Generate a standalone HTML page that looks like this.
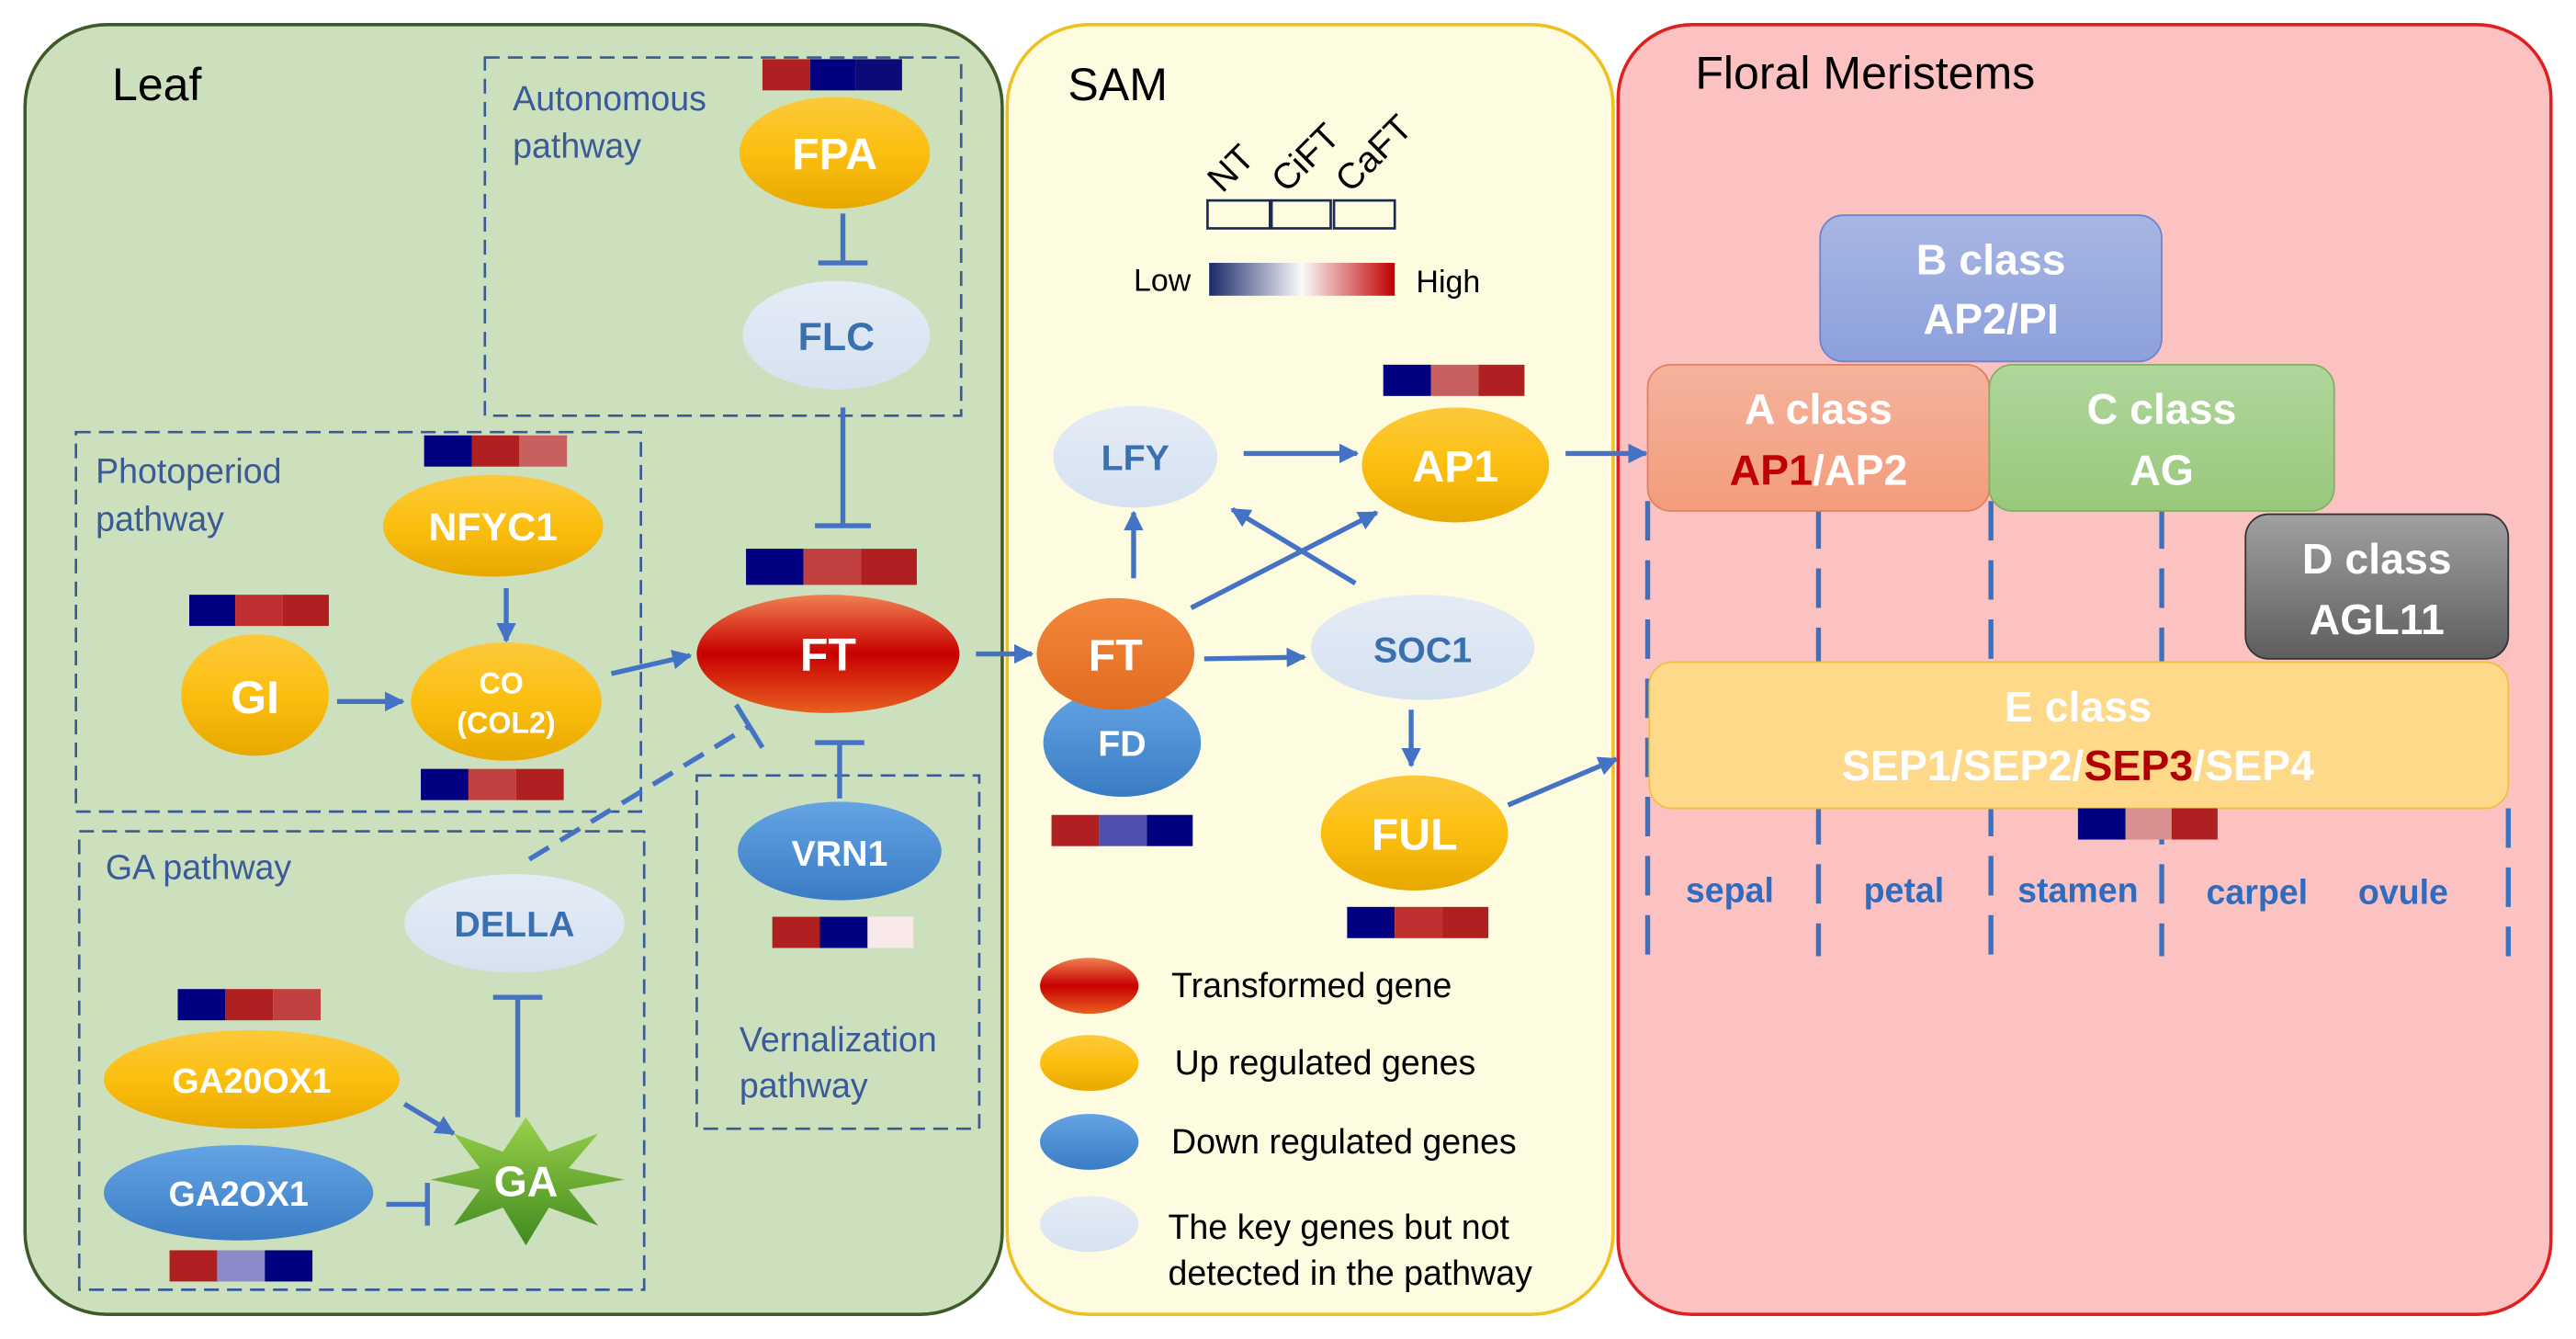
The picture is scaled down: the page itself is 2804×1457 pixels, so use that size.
<!DOCTYPE html>
<html><head><meta charset="utf-8"><style>html,body{margin:0;padding:0;background:#fff}svg{display:block}</style></head>
<body>
<svg width="2804" height="1457" viewBox="0 0 1568 815" xmlns="http://www.w3.org/2000/svg" font-family="Liberation Sans, sans-serif">
<defs>
<linearGradient id="yel" x1="0" y1="0" x2="0" y2="1"><stop offset="0" stop-color="#fdc93a"/><stop offset="0.5" stop-color="#fbbf10"/><stop offset="1" stop-color="#e8a800"/></linearGradient>
<linearGradient id="red" x1="0" y1="0" x2="0" y2="1"><stop offset="0" stop-color="#f08050"/><stop offset="0.5" stop-color="#c80000"/><stop offset="1" stop-color="#e86020"/></linearGradient>
<linearGradient id="blu" x1="0" y1="0" x2="0" y2="1"><stop offset="0" stop-color="#64a4e4"/><stop offset="1" stop-color="#3a7cc4"/></linearGradient>
<linearGradient id="org" x1="0" y1="0" x2="0" y2="1"><stop offset="0" stop-color="#f4873c"/><stop offset="1" stop-color="#e06c20"/></linearGradient>
<linearGradient id="lb" x1="0" y1="0" x2="0" y2="1"><stop offset="0" stop-color="#e4ecf6"/><stop offset="1" stop-color="#d6e2f0"/></linearGradient>
<linearGradient id="grn" x1="0" y1="0" x2="0" y2="1"><stop offset="0" stop-color="#9ad04a"/><stop offset="1" stop-color="#3f8a20"/></linearGradient>
<linearGradient id="lh" x1="0" y1="0" x2="1" y2="0"><stop offset="0" stop-color="#1a2a6a"/><stop offset="0.5" stop-color="#fafafa"/><stop offset="1" stop-color="#c00000"/></linearGradient>
<linearGradient id="gray" x1="0" y1="0" x2="0" y2="1"><stop offset="0" stop-color="#a0a0a0"/><stop offset="1" stop-color="#5e5e5e"/></linearGradient>
<linearGradient id="bcl" x1="0" y1="0" x2="0" y2="1"><stop offset="0" stop-color="#a8b6e2"/><stop offset="1" stop-color="#8ca0dc"/></linearGradient>
<linearGradient id="acl" x1="0" y1="0" x2="0" y2="1"><stop offset="0" stop-color="#f5b39c"/><stop offset="1" stop-color="#f39c7c"/></linearGradient>
<linearGradient id="ccl" x1="0" y1="0" x2="0" y2="1"><stop offset="0" stop-color="#b0d69c"/><stop offset="1" stop-color="#98c87c"/></linearGradient>
<marker id="ar" viewBox="0 0 10 10" refX="9" refY="5" markerWidth="4" markerHeight="4" orient="auto"><path d="M0,0L10,5L0,10z" fill="#4472c4"/></marker>
</defs>
<rect x="15" y="15" width="595" height="785" rx="50" fill="#cce0bd" stroke="#3e5a28" stroke-width="2"/>
<rect x="613" y="15" width="369" height="785" rx="50" fill="#fefce0" stroke="#f0c020" stroke-width="2"/>
<rect x="985" y="15" width="568" height="785" rx="45" fill="#fcc2c2" stroke="#e02020" stroke-width="2"/>
<g fill="none" stroke="#3a5a98" stroke-width="1.5" stroke-dasharray="9,5">
<rect x="295" y="35" width="290" height="218"/>
<rect x="46" y="263" width="344" height="231"/>
<rect x="48" y="506" width="344" height="279"/>
<rect x="424" y="472" width="172" height="215"/>
</g>
<g font-size="28" fill="#000"><text x="68" y="61">Leaf</text><text x="650" y="61">SAM</text><text x="1032" y="54">Floral Meristems</text></g>
<g font-size="21" fill="#3a5a98">
<text x="312" y="67">Autonomous</text><text x="312" y="96">pathway</text>
<text x="58" y="294">Photoperiod</text><text x="58" y="323">pathway</text>
<text x="64" y="535">GA pathway</text>
<text x="450" y="640">Vernalization</text><text x="450" y="668">pathway</text>
</g>
<g>
<rect x="464" y="36" width="29" height="19" fill="#b02020"/><rect x="493" y="36" width="28" height="19" fill="#000080"/><rect x="521" y="36" width="28" height="19" fill="#0a0a78"/>
<rect x="258" y="265" width="29" height="19" fill="#000080"/><rect x="287" y="265" width="29" height="19" fill="#b02020"/><rect x="316" y="265" width="29" height="19" fill="#c86060"/>
<rect x="115" y="362" width="28" height="19" fill="#000080"/><rect x="143" y="362" width="29" height="19" fill="#c03030"/><rect x="172" y="362" width="28" height="19" fill="#b02020"/>
<rect x="454" y="334" width="35" height="22" fill="#000080"/><rect x="489" y="334" width="35" height="22" fill="#c04040"/><rect x="524" y="334" width="34" height="22" fill="#b02020"/>
<rect x="256" y="468" width="29" height="19" fill="#000080"/><rect x="285" y="468" width="29" height="19" fill="#c04040"/><rect x="314" y="468" width="29" height="19" fill="#b02020"/>
<rect x="470" y="558" width="29" height="19" fill="#b02020"/><rect x="499" y="558" width="29" height="19" fill="#000080"/><rect x="528" y="558" width="28" height="19" fill="#f8e8ea"/>
<rect x="108" y="602" width="29" height="19" fill="#000080"/><rect x="137" y="602" width="29" height="19" fill="#b02020"/><rect x="166" y="602" width="29" height="19" fill="#c04040"/>
<rect x="103" y="761" width="29" height="19" fill="#b02020"/><rect x="132" y="761" width="29" height="19" fill="#8a8ac8"/><rect x="161" y="761" width="29" height="19" fill="#000080"/>
<rect x="842" y="222" width="29" height="19" fill="#000080"/><rect x="871" y="222" width="29" height="19" fill="#c86060"/><rect x="900" y="222" width="28" height="19" fill="#b02020"/>
<rect x="640" y="496" width="29" height="19" fill="#b02020"/><rect x="669" y="496" width="29" height="19" fill="#5050b0"/><rect x="698" y="496" width="28" height="19" fill="#000080"/>
<rect x="820" y="552" width="29" height="19" fill="#000080"/><rect x="849" y="552" width="29" height="19" fill="#c03030"/><rect x="878" y="552" width="28" height="19" fill="#b02020"/>
</g>
<g font-size="22" fill="#000">
<text transform="translate(744,118) rotate(-45)">NT</text>
<text transform="translate(783,118) rotate(-45)">CiFT</text>
<text transform="translate(822,118) rotate(-45)">CaFT</text>
<text x="690" y="177" font-size="19">Low</text><text x="862" y="178" font-size="19">High</text>
</g>
<g fill="none" stroke="#1a2a5a" stroke-width="1.5"><rect x="735" y="122" width="38" height="17"/><rect x="774" y="122" width="36" height="17"/><rect x="812" y="122" width="37" height="17"/></g>
<rect x="736" y="160" width="113" height="20" fill="url(#lh)"/>
<g stroke="#4472c4" stroke-width="3" fill="none">
<line x1="513" y1="130" x2="513" y2="160"/><line x1="498" y1="160" x2="528" y2="160"/>
<line x1="513" y1="248" x2="513" y2="320"/><line x1="496" y1="320" x2="530" y2="320"/>
<line x1="308" y1="358" x2="308" y2="390" marker-end="url(#ar)"/>
<line x1="205" y1="427" x2="245" y2="427" marker-end="url(#ar)"/>
<line x1="372" y1="410" x2="420" y2="399" marker-end="url(#ar)"/>
<line x1="322" y1="523" x2="456" y2="442" stroke-dasharray="14,8"/><line x1="448" y1="429" x2="464" y2="455"/>
<line x1="511" y1="486" x2="511" y2="452"/><line x1="496" y1="452" x2="526" y2="452"/>
<line x1="315" y1="680" x2="315" y2="607"/><line x1="300" y1="607" x2="330" y2="607"/>
<line x1="246" y1="672" x2="276" y2="690" marker-end="url(#ar)"/>
<line x1="235" y1="733" x2="260" y2="733"/><line x1="260" y1="720" x2="260" y2="746"/>
<line x1="594" y1="398" x2="628" y2="398" marker-end="url(#ar)"/>
<line x1="757" y1="276" x2="826" y2="276" marker-end="url(#ar)"/>
<line x1="690" y1="352" x2="690" y2="312" marker-end="url(#ar)"/>
<line x1="725" y1="370" x2="838" y2="312" marker-end="url(#ar)"/>
<line x1="825" y1="355" x2="750" y2="310" marker-end="url(#ar)"/>
<line x1="733" y1="401" x2="794" y2="400" marker-end="url(#ar)"/>
<line x1="859" y1="432" x2="859" y2="466" marker-end="url(#ar)"/>
<line x1="918" y1="490" x2="984" y2="462" marker-end="url(#ar)"/>
<line x1="953" y1="276" x2="1002" y2="276" marker-end="url(#ar)"/>
</g>
<g font-weight="bold" text-anchor="middle" fill="#fff">
<ellipse cx="508" cy="93" rx="58" ry="34" fill="url(#yel)"/><text x="508" y="103" font-size="27">FPA</text>
<ellipse cx="509" cy="204" rx="57" ry="33" fill="url(#lb)"/><text x="509" y="213" font-size="24" fill="#3a6fb0">FLC</text>
<ellipse cx="300" cy="320" rx="67" ry="31" fill="url(#yel)"/><text x="300" y="329" font-size="24">NFYC1</text>
<ellipse cx="155" cy="423" rx="45" ry="37" fill="url(#yel)"/><text x="155" y="434" font-size="28">GI</text>
<ellipse cx="308" cy="427" rx="58" ry="36" fill="url(#yel)"/><text x="305" y="422" font-size="18">CO</text><text x="308" y="446" font-size="18">(COL2)</text>
<ellipse cx="504" cy="398" rx="80" ry="36" fill="url(#red)"/><text x="504" y="408" font-size="28">FT</text>
<ellipse cx="511" cy="518" rx="62" ry="30" fill="url(#blu)"/><text x="511" y="527" font-size="22">VRN1</text>
<ellipse cx="313" cy="562" rx="67" ry="30" fill="url(#lb)"/><text x="313" y="570" font-size="22" fill="#3a6fb0">DELLA</text>
<ellipse cx="153" cy="657" rx="90" ry="30" fill="url(#yel)"/><text x="153" y="665" font-size="21">GA20OX1</text>
<ellipse cx="145" cy="726" rx="82" ry="29" fill="url(#blu)"/><text x="145" y="734" font-size="21">GA2OX1</text>
<polygon points="380,718 346,724 364,746 334,735 320,758 306,735 276,746 292,724 262,718 292,711 276,690 306,701 320,680 334,701 364,690 346,711" fill="url(#grn)"/><text x="320" y="728" font-size="26">GA</text>
<ellipse cx="691" cy="278" rx="50" ry="31" fill="url(#lb)"/><text x="691" y="286" font-size="22" fill="#3a6fb0">LFY</text>
<ellipse cx="886" cy="283" rx="57" ry="35" fill="url(#yel)"/><text x="886" y="293" font-size="27">AP1</text>
<ellipse cx="683" cy="452" rx="48" ry="33" fill="url(#blu)"/><text x="683" y="460" font-size="22">FD</text>
<ellipse cx="679" cy="398" rx="48" ry="34" fill="url(#org)"/><text x="679" y="408" font-size="27">FT</text>
<ellipse cx="866" cy="394" rx="68" ry="32" fill="url(#lb)"/><text x="866" y="403" font-size="22" fill="#3a6fb0">SOC1</text>
<ellipse cx="861" cy="507" rx="57" ry="35" fill="url(#yel)"/><text x="861" y="517" font-size="27">FUL</text>
</g>
<ellipse cx="663" cy="600" rx="30" ry="17" fill="url(#red)"/>
<ellipse cx="663" cy="647" rx="30" ry="17" fill="url(#yel)"/>
<ellipse cx="663" cy="695" rx="30" ry="17" fill="url(#blu)"/>
<ellipse cx="663" cy="745" rx="30" ry="17" fill="url(#lb)"/>
<g font-size="21" fill="#000">
<text x="713" y="607">Transformed gene</text><text x="715" y="654">Up regulated genes</text><text x="713" y="702">Down regulated genes</text>
<text x="711" y="754">The key genes but not</text><text x="711" y="782">detected in the pathway</text>
</g>
<g stroke="#3a70c0" stroke-width="3" stroke-dasharray="24,12">
<line x1="1003" y1="305" x2="1003" y2="582"/><line x1="1107" y1="310" x2="1107" y2="582"/><line x1="1212" y1="305" x2="1212" y2="582"/><line x1="1316" y1="310" x2="1316" y2="582"/><line x1="1527" y1="492" x2="1527" y2="582"/>
</g>
<rect x="1108" y="131" width="208" height="89" rx="14" fill="url(#bcl)" stroke="#6c84d0"/>
<rect x="1003" y="222" width="208" height="89" rx="14" fill="url(#acl)" stroke="#e08060"/>
<rect x="1211" y="222" width="210" height="89" rx="14" fill="url(#ccl)" stroke="#80b060"/>
<rect x="1367" y="313" width="160" height="88" rx="14" fill="url(#gray)" stroke="#333"/>
<rect x="1004" y="403" width="523" height="89" rx="14" fill="#fed98a" stroke="#f0c040"/>
<g font-weight="bold" font-size="26" fill="#fff" text-anchor="middle">
<text x="1212" y="167">B class</text><text x="1212" y="203">AP2/PI</text>
<text x="1107" y="258">A class</text><text x="1107" y="295"><tspan fill="#c00000">AP1</tspan>/AP2</text>
<text x="1316" y="258">C class</text><text x="1316" y="295">AG</text>
<text x="1447" y="349">D class</text><text x="1447" y="386">AGL11</text>
<text x="1265" y="439">E class</text><text x="1265" y="475">SEP1/SEP2/<tspan fill="#b00000">SEP3</tspan>/SEP4</text>
</g>
<rect x="1265" y="492" width="29" height="19" fill="#000080"/><rect x="1294" y="492" width="28" height="19" fill="#d89090"/><rect x="1322" y="492" width="28" height="19" fill="#b02020"/>
<g font-weight="bold" font-size="21" fill="#2f6cc0" text-anchor="middle">
<text x="1053" y="549">sepal</text><text x="1159" y="549">petal</text><text x="1265" y="549">stamen</text><text x="1374" y="550">carpel</text><text x="1463" y="550">ovule</text>
</g>
</svg>
</body></html>
